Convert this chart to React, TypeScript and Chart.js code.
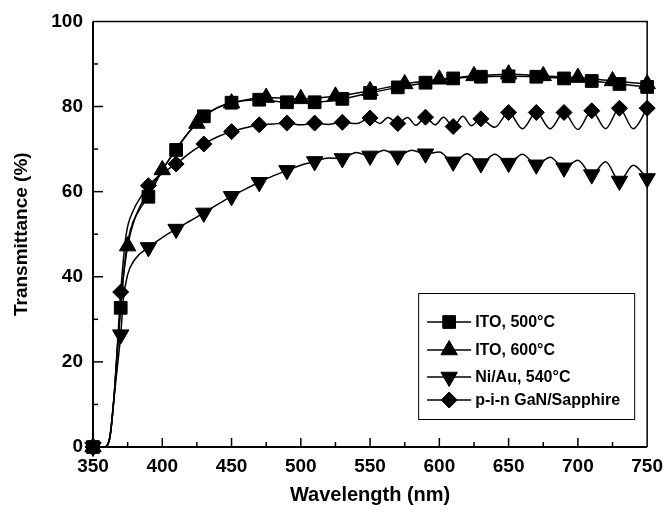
import React, { useEffect, useRef } from 'react';
import { Chart, registerables } from 'chart.js';

Chart.register(...registerables);

const FONT = '"Liberation Sans", Arial, Helvetica, sans-serif';

// axis ranges / ticks
const X_MIN = 350;
const X_MAX = 750;
const Y_MIN = 0;
const Y_MAX = 100;
const X_MAJOR = 50;
const X_MINOR = 25;
const Y_MAJOR = 20;
const Y_MINOR = 10;

const seriesNames = ['ITO, 500°C', 'ITO, 600°C', 'Ni/Au, 540°C', 'p-i-n GaN/Sapphire'];

// marker wavelengths
const wl20 = [350, 370, 390, 410, 430, 450, 470, 490, 510, 530, 550, 570, 590, 610, 630, 650, 670, 690, 710, 730, 750];
const wl25 = [350, 375, 400, 425, 450, 475, 500, 525, 550, 575, 600, 625, 650, 675, 700, 725, 750];

// marker values (%)
const ito500Marks = [0, 32.7, 58.8, 69.8, 77.7, 80.9, 81.6, 81.0, 81.0, 81.8, 83.2, 84.5, 85.6, 86.6, 87.0, 87.1, 87.0, 86.6, 86.0, 85.3, 84.6];
const ito600Marks = [0, 47.2, 65.1, 76.0, 80.8, 82.1, 81.8, 82.4, 83.7, 85.3, 86.4, 87.2, 87.6, 87.2, 86.8, 86.0, 85.3];
const niauMarks = [0, 26.4, 46.9, 51.2, 55.0, 58.9, 62.2, 65.0, 67.1, 67.8, 68.4, 68.4, 68.9, 67.0, 66.6, 66.7, 66.3, 65.6, 64.0, 62.5, 63.1];
const pinMarks = [0, 36.4, 61.4, 66.5, 71.2, 74.1, 75.7, 76.1, 76.1, 76.3, 77.3, 76.0, 77.5, 75.3, 77.1, 78.6, 78.6, 78.6, 79.0, 79.6, 79.6];

// spectrum curves
const ito500CurveX = [350, 358, 362, 365, 368, 370, 373, 377, 383, 390, 400, 410, 420, 430, 440, 450, 470, 490, 510, 530, 550, 570, 590, 610, 630, 650, 670, 690, 710, 730, 750];
const ito500CurveY = [0, 0, 2, 11, 24, 32.7, 43.5, 51, 55.5, 58.8, 65, 69.8, 74.3, 77.7, 79.8, 80.9, 81.6, 81.0, 81.0, 81.8, 83.2, 84.5, 85.6, 86.6, 87.0, 87.1, 87.0, 86.6, 86.0, 85.3, 84.6];

const ito600CurveX = [350, 358, 362, 365, 368, 371, 375, 380, 390, 400, 412, 425, 437, 450, 475, 500, 525, 550, 575, 600, 625, 650, 675, 700, 725, 750];
const ito600CurveY = [0, 0, 2, 11, 25, 37, 47.2, 53.5, 60, 65.1, 71, 76, 79.2, 80.8, 82.1, 81.8, 82.4, 83.7, 85.3, 86.4, 87.2, 87.6, 87.2, 86.8, 86.0, 85.3];

const niauCurveX = [350, 358, 362, 365, 368, 370, 372, 375, 380, 390, 400, 410, 420, 430, 440, 450, 460, 470, 480, 490, 500, 510, 520, 530, 540, 550, 560, 570, 580, 590, 600, 610, 620, 630, 640, 650, 660, 670, 680, 690, 700, 710, 720, 730, 740, 750];
const niauCurveY = [0, 0, 2, 11, 20, 26.4, 35, 40.5, 44, 46.9, 49.2, 51.2, 53.1, 55.0, 57.0, 58.9, 60.6, 62.2, 63.7, 65.0, 66.2, 67.1, 67.9, 67.8, 69.2, 68.4, 69.7, 68.4, 69.7, 68.9, 69.3, 67.0, 68.9, 66.6, 68.8, 66.7, 68.8, 66.3, 68.1, 65.6, 67.4, 64.0, 67.0, 62.5, 66.2, 63.1];

const pinCurveX = [350, 358, 362, 365, 368, 370, 374, 379, 385, 390, 400, 410, 420, 430, 440, 450, 460, 470, 480, 490, 500, 510, 520, 530, 540, 550, 557, 563, 570, 577, 583, 590, 597, 603, 610, 617, 623, 630, 640, 650, 660, 670, 680, 690, 700, 710, 720, 730, 740, 750];
const pinCurveY = [0, 0, 2, 11, 26, 36.4, 50, 55.5, 59, 61.4, 64.3, 66.5, 69.1, 71.2, 72.9, 74.1, 75.0, 75.7, 75.9, 76.1, 75.7, 76.1, 75.8, 76.3, 76.0, 77.3, 76.0, 77.4, 76.0, 77.4, 75.6, 77.5, 75.7, 77.5, 75.3, 77.7, 75.5, 77.1, 75.1, 78.6, 74.8, 78.6, 74.8, 78.6, 74.6, 79.0, 74.8, 79.6, 74.8, 79.6];

const pts = (xs: number[], ys: number[]) => xs.map((x, i) => ({ x, y: ys[i] }));

type Marker = { style: string; radius: number; rotation: number };
const markers: Marker[] = [
  { style: 'rect', radius: 9, rotation: 0 },
  { style: 'triangle', radius: 9.5, rotation: 0 },
  { style: 'triangle', radius: 9.5, rotation: 180 },
  { style: 'rectRot', radius: 8, rotation: 0 },
];

function drawMarker(ctx: CanvasRenderingContext2D, m: Marker, x: number, y: number) {
  const r = m.radius;
  ctx.beginPath();
  if (m.style === 'rect') {
    const s = Math.SQRT1_2 * r;
    ctx.rect(x - s, y - s, 2 * s, 2 * s);
  } else if (m.style === 'rectRot') {
    ctx.moveTo(x - r, y);
    ctx.lineTo(x, y - r);
    ctx.lineTo(x + r, y);
    ctx.lineTo(x, y + r);
    ctx.closePath();
  } else {
    let rad = (m.rotation * Math.PI) / 180;
    ctx.moveTo(x + Math.sin(rad) * r, y - Math.cos(rad) * r);
    rad += (2 * Math.PI) / 3;
    ctx.lineTo(x + Math.sin(rad) * r, y - Math.cos(rad) * r);
    rad += (2 * Math.PI) / 3;
    ctx.lineTo(x + Math.sin(rad) * r, y - Math.cos(rad) * r);
    ctx.closePath();
  }
  ctx.fill();
  ctx.stroke();
}

const frameTicksPlugin = {
  id: 'frameTicks',
  beforeDatasetsDraw(chart: any) {
    const { ctx, chartArea: a, scales } = chart;
    const xs = scales.x;
    const ys = scales.y;
    ctx.save();
    ctx.strokeStyle = '#000';
    ctx.lineWidth = 1.5;
    for (let v = X_MIN + X_MINOR; v < X_MAX; v += X_MINOR) {
      const px = xs.getPixelForValue(v);
      const len = (v - X_MIN) % X_MAJOR === 0 ? 9 : 5;
      ctx.beginPath();
      ctx.moveTo(px, a.bottom);
      ctx.lineTo(px, a.bottom - len);
      ctx.stroke();
    }
    for (let v = Y_MIN + Y_MINOR; v < Y_MAX; v += Y_MINOR) {
      const py = ys.getPixelForValue(v);
      const len = (v - Y_MIN) % Y_MAJOR === 0 ? 10 : 5;
      ctx.beginPath();
      ctx.moveTo(a.left, py);
      ctx.lineTo(a.left + len, py);
      ctx.stroke();
    }
    ctx.lineWidth = 1.5;
    ctx.beginPath();
    ctx.moveTo(a.left, a.top);
    ctx.lineTo(a.right, a.top);
    ctx.lineTo(a.right, a.bottom);
    ctx.stroke();
    ctx.lineWidth = 2;
    ctx.beginPath();
    ctx.moveTo(a.left, a.top);
    ctx.lineTo(a.left, a.bottom);
    ctx.lineTo(a.right, a.bottom);
    ctx.stroke();
    ctx.restore();
  },
};

const boxLegendPlugin = {
  id: 'boxLegend',
  afterDatasetsDraw(chart: any) {
    const { ctx, chartArea: a } = chart;
    const w = 216;
    const h = 126;
    const left = a.right - 13 - w;
    const top = a.bottom - 28 - h;
    ctx.save();
    ctx.fillStyle = '#fff';
    ctx.fillRect(left, top, w, h);
    ctx.strokeStyle = '#000';
    ctx.lineWidth = 1;
    ctx.strokeRect(left + 0.5, top + 0.5, w, h);
    const rowOffsets = [29, 57, 84, 107];
    ctx.font = `bold 16px ${FONT}`;
    ctx.textBaseline = 'middle';
    ctx.textAlign = 'left';
    seriesNames.forEach((name, i) => {
      const y = top + rowOffsets[i];
      ctx.strokeStyle = '#000';
      ctx.lineWidth = 1.5;
      ctx.beginPath();
      ctx.moveTo(left + 9, y);
      ctx.lineTo(left + 53, y);
      ctx.stroke();
      ctx.fillStyle = '#000';
      ctx.lineWidth = 1;
      drawMarker(ctx, markers[i], left + 31, y);
      ctx.fillStyle = '#000';
      ctx.fillText(name, left + 57, y + 1);
    });
    ctx.restore();
  },
};

export default function App() {
  const canvasRef = useRef<HTMLCanvasElement | null>(null);

  useEffect(() => {
    document.body.style.margin = '0';
    const canvas = canvasRef.current;
    if (!canvas) return;

    const curves = [
      pts(ito500CurveX, ito500CurveY),
      pts(ito600CurveX, ito600CurveY),
      pts(niauCurveX, niauCurveY),
      pts(pinCurveX, pinCurveY),
    ];
    const markData = [
      pts(wl20, ito500Marks),
      pts(wl25, ito600Marks),
      pts(wl20, niauMarks),
      pts(wl20, pinMarks),
    ];

    const markerSets = markData.map((d, i) => ({
      label: seriesNames[i],
      data: d,
      showLine: false,
      pointStyle: markers[i].style,
      pointRadius: markers[i].radius,
      pointRotation: markers[i].rotation,
      pointBackgroundColor: '#000',
      pointBorderColor: '#000',
      pointBorderWidth: 1,
      borderColor: '#000',
      backgroundColor: '#000',
      clip: false,
      order: 0,
    }));
    const lineSets = curves.map((d, i) => ({
      label: seriesNames[i] + ' curve',
      data: d,
      showLine: true,
      pointRadius: 0,
      borderColor: '#000',
      borderWidth: 1.5,
      cubicInterpolationMode: 'monotone',
      fill: false,
      clip: false,
      order: 1,
    }));

    const chart = new Chart(canvas, {
      type: 'scatter',
      data: { datasets: [...markerSets, ...lineSets] as any },
      options: {
        animation: false,
        responsive: false,
        devicePixelRatio: 1,
        layout: { padding: { top: 18, right: 19, left: 0, bottom: 0 } },
        plugins: {
          legend: { display: false },
          tooltip: { enabled: false },
        },
        scales: {
          x: {
            type: 'linear',
            min: X_MIN,
            max: X_MAX,
            ticks: {
              stepSize: X_MAJOR,
              color: '#000',
              font: { family: FONT, size: 19, weight: 'bold' },
              padding: 8,
              maxRotation: 0,
            },
            grid: { display: false, drawTicks: false },
            border: { display: false },
            title: {
              display: true,
              text: 'Wavelength (nm)',
              color: '#000',
              font: { family: FONT, size: 20, weight: 'bold' },
              padding: { top: 0, bottom: 6 },
            },
            afterFit(s: any) {
              s.height = 66;
            },
          },
          y: {
            type: 'linear',
            min: Y_MIN,
            max: Y_MAX,
            ticks: {
              stepSize: Y_MAJOR,
              color: '#000',
              font: { family: FONT, size: 19, weight: 'bold' },
              padding: 10,
            },
            grid: { display: false, drawTicks: false },
            border: { display: false },
            title: {
              display: true,
              text: 'Transmittance (%)',
              color: '#000',
              font: { family: FONT, size: 19, weight: 'bold' },
              padding: { top: 10, bottom: 0 },
            },
            afterFit(s: any) {
              s.width = 93;
            },
          },
        },
      } as any,
      plugins: [frameTicksPlugin, boxLegendPlugin],
    });

    return () => chart.destroy();
  }, []);

  return (
    <div style={{ width: 671, height: 513, background: '#fff' }}>
      <canvas ref={canvasRef} width={671} height={513} />
    </div>
  );
}
